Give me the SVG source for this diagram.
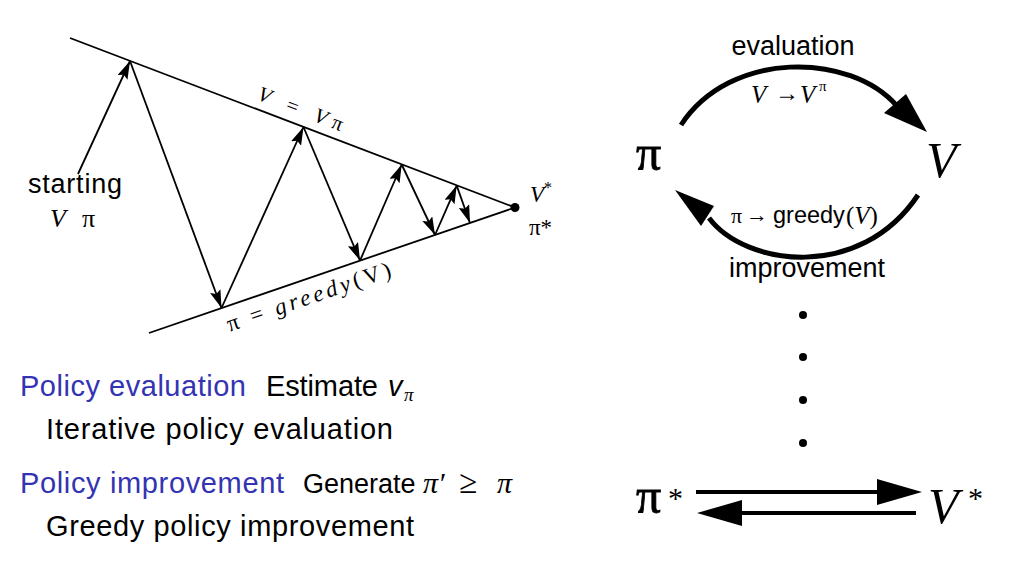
<svg xmlns="http://www.w3.org/2000/svg" width="1016" height="566" viewBox="0 0 1016 566">
<defs>
<style>
.sans{font-family:"Liberation Sans",Arial,sans-serif;fill:#000}
.serif{font-family:"Liberation Serif","Times New Roman",serif;fill:#000}
.it{font-style:italic}
.heavy{stroke:#000;stroke-width:0.8}
.thin{stroke:#000;stroke-width:1.8;fill:none}
.thick{stroke:#000;stroke-width:5;fill:none}
.bar{stroke:#000;stroke-width:4;fill:none}
.blue{fill:#3333b3}
.head{fill:#000}
</style>
<marker id="ah" markerUnits="userSpaceOnUse" markerWidth="20" markerHeight="12" refX="18" refY="5.5" orient="auto">
<path d="M0,0 L18,5.5 L0,11 L3,5.5 Z" fill="#000"/>
</marker>
</defs>
<rect width="1016" height="566" fill="#fff"/>

<!-- Left: convergence diagram -->
<g id="lines">
<line class="thin" x1="70" y1="38" x2="515" y2="207.5"/>
<line class="thin" x1="149" y1="333" x2="515" y2="207.5"/>
<circle cx="515" cy="207.5" r="4.5" fill="#000"/>
</g>
<g id="connectors">
<line class="thin" x1="78" y1="174" x2="130" y2="61" marker-end="url(#ah)"/>
<line class="thin" x1="130" y1="61" x2="221.5" y2="308" marker-end="url(#ah)"/>
<line class="thin" x1="221.5" y1="308" x2="303.5" y2="127" marker-end="url(#ah)"/>
<line class="thin" x1="303.5" y1="127" x2="360" y2="260.6" marker-end="url(#ah)"/>
<line class="thin" x1="360" y1="260.6" x2="401.7" y2="164.5" marker-end="url(#ah)"/>
<line class="thin" x1="401.7" y1="164.5" x2="435" y2="235" marker-end="url(#ah)"/>
<line class="thin" x1="435" y1="235" x2="456.7" y2="185.6" marker-end="url(#ah)"/>
<line class="thin" x1="456.7" y1="185.6" x2="470" y2="223" marker-end="url(#ah)"/>
</g>
<g id="label-start">
<text class="sans" x="28" y="193" font-size="27" textLength="94">starting</text>
<text class="serif it" x="50" y="227" font-size="26">V</text>
<text class="serif" x="82" y="227" font-size="26">π</text>
</g>
<g id="label-vpi" transform="translate(295,123.7) rotate(20.85)">
<text class="serif" x="0" y="-9" font-size="21" text-anchor="middle" textLength="90"><tspan class="it">V</tspan> = <tspan class="it">V</tspan>π</text>
</g>
<g id="label-greedy" transform="translate(303,280.2) rotate(-18.93)">
<text class="serif" x="0" y="25" font-size="23" text-anchor="middle" textLength="172">π = <tspan class="it">greedy</tspan>(V)</text>
</g>
<g id="label-star">
<text class="serif it" x="530" y="202" font-size="23">V<tspan dy="-9" font-size="16" font-style="normal">*</tspan></text>
<text class="serif" x="529" y="235" font-size="23">π*</text>
</g>

<!-- Bottom-left text -->
<g id="text-eval">
<text class="sans blue" x="20" y="396" font-size="29" textLength="226">Policy evaluation</text>
<text class="sans" x="266" y="396" font-size="29" textLength="112">Estimate</text>
<text class="sans it" x="388" y="396" font-size="29">v</text>
<text class="serif it" x="404" y="401" font-size="19">π</text>
<text class="sans" x="46" y="439" font-size="29" textLength="347">Iterative policy evaluation</text>
</g>
<g id="text-impr">
<text class="sans blue" x="20" y="493" font-size="29" textLength="264">Policy improvement</text>
<text class="sans" x="303" y="493" font-size="27">Generate</text>
<text class="serif it" x="423" y="493" font-size="30">π′</text>
<text class="serif" x="459" y="493" font-size="33">≥</text>
<text class="serif it" x="497" y="493" font-size="30">π</text>
<text class="sans" x="46" y="536" font-size="29" textLength="368">Greedy policy improvement</text>
</g>

<!-- Right: cycle -->
<g id="node-pi">
<text class="serif heavy" x="636" y="170" font-size="50">π</text>
</g>
<g id="node-v">
<text class="serif it" x="926" y="177" font-size="50">V</text>
</g>
<g id="cycle-connectors">
<path class="thick" d="M681,125 C730,50 850,52 897,106"/>
<polygon class="head" points="927,132 884,113 906,94"/>
<path class="thick" d="M918,195 C860,282 745,266 709,218"/>
<polygon class="head" points="675,190 701,226 714,206"/>
</g>
<g id="label-evaluation">
<text class="sans" x="793" y="55" font-size="27" text-anchor="middle">evaluation</text>
<text class="serif it" x="751" y="103" font-size="25">V</text>
<text class="serif" x="775" y="101" font-size="24">→</text>
<text class="serif it" x="800" y="103" font-size="25">V</text>
<text class="serif" x="819" y="91" font-size="15">π</text>
</g>
<g id="label-improvement">
<text class="serif" x="731" y="223" font-size="22">π</text>
<text class="serif" x="746" y="222" font-size="22">→</text>
<text class="sans" x="773" y="223" font-size="23.5">greedy</text>
<text class="serif" x="846" y="224" font-size="25">(<tspan class="it">V</tspan>)</text>
<text class="sans" x="807" y="277" font-size="27" text-anchor="middle">improvement</text>
</g>
<g id="dots">
<circle cx="803" cy="315" r="4"/>
<circle cx="803" cy="357" r="4"/>
<circle cx="803" cy="400" r="4"/>
<circle cx="803" cy="443" r="4"/>
</g>
<g id="node-pistar">
<text class="serif heavy" x="636" y="513" font-size="50">π</text>
<text class="serif" x="668" y="508" font-size="30">*</text>
</g>
<g id="node-vstar">
<text class="serif it" x="928" y="523" font-size="50">V</text>
<text class="serif" x="968" y="508" font-size="30">*</text>
</g>
<g id="final-connectors">
<line class="bar" x1="696" y1="492" x2="880" y2="492"/>
<polygon class="head" points="922,492 877,479 877,505"/>
<line class="bar" x1="916" y1="513" x2="740" y2="513"/>
<polygon class="head" points="697,513 742,500 742,526"/>
</g>
</svg>
